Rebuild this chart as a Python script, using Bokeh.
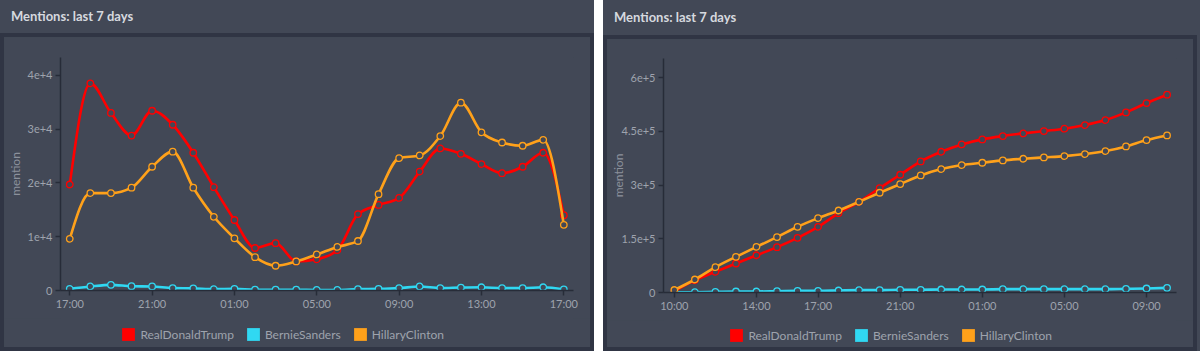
from bokeh.plotting import figure
from bokeh.models import FixedTicker, Legend, LegendItem, Div, Range1d
from bokeh.layouts import row, column
from bokeh.embed import file_html
from bokeh.resources import INLINE

# ---------------- data ----------------
TITLE = "Mentions: last 7 days"
SERIES = ["RealDonaldTrump", "BernieSanders", "HillaryClinton"]
COLORS = ["#ff0000", "#30d8f2", "#ffa11a"]

# left panel: hourly from 17:00 to 17:00 next day
left_hours = list(range(25))
left_xticks = [0, 4, 8, 12, 16, 20, 24]
left_xlabels = ["17:00", "21:00", "01:00", "05:00", "09:00", "13:00", "17:00"]
left_yticks = [0, 10000, 20000, 30000, 40000]
left_ylabels = ["0", "1e+4", "2e+4", "3e+4", "4e+4"]
left_trump = [19700, 38500, 33000, 28800, 33400, 30800, 25600, 19200, 13100, 7900,
              8800, 5400, 5800, 7500, 14200, 15900, 17200, 22100, 26400, 25400,
              23500, 21800, 23000, 25600, 14000]
left_bernie = [300, 750, 1050, 800, 750, 450, 400, 250, 300, 150,
               150, 150, 100, 100, 250, 300, 450, 750, 450, 550,
               600, 450, 450, 600, 200]
left_hillary = [9600, 18100, 18100, 19100, 23000, 25800, 19100, 13700, 9700, 6200,
                4600, 5400, 6700, 8100, 9200, 17900, 24600, 25100, 28700, 34900,
                29400, 27500, 26900, 28000, 12200]

# right panel: hourly from 10:00 to 10:00 next day (cumulative)
right_hours = list(range(25))
right_xticks = [0, 4, 7, 11, 15, 19, 23]
right_xlabels = ["10:00", "14:00", "17:00", "21:00", "01:00", "05:00", "09:00"]
right_yticks = [0, 150000, 300000, 450000, 600000]
right_ylabels = ["0", "1.5e+5", "3e+5", "4.5e+5", "6e+5"]
right_trump = [3000, 34500, 57800, 81000, 104000, 126700, 152800, 183500, 221700, 253400,
               291600, 328900, 366200, 393200, 413700, 427700, 437000, 444400, 451000, 457500,
               467700, 481700, 503100, 529200, 552500]
right_bernie = [500, 900, 1900, 2800, 2800, 3700, 4700, 4700, 5600, 6500,
                6500, 7500, 7500, 8400, 8400, 8400, 9300, 9300, 9300, 9300,
                9300, 9300, 10200, 11200, 13000]
right_hillary = [7000, 36300, 70800, 99700, 127600, 154700, 183500, 207800, 229000, 253400,
                 278600, 302800, 327000, 344700, 355900, 362400, 369000, 373600, 377300, 381000,
                 386700, 395000, 408000, 425800, 438800]

# ---------------- style ----------------
PANEL = "#424856"
BORDER = "#303544"
AXIS = "#272c38"
TICK = "#9ea3ad"
TITLE_C = "#d6d9df"
FONT = "Lato"


def monotone_segments(xs, ys):
    """Cubic bezier pieces of a monotone (d3 monotoneX-like) curve through the points."""
    n = len(xs)
    h = [xs[i + 1] - xs[i] for i in range(n - 1)]
    s = [(ys[i + 1] - ys[i]) / h[i] for i in range(n - 1)]
    t = [0.0] * n
    sg = lambda v: -1 if v < 0 else 1
    for i in range(1, n - 1):
        h0, h1, s0, s1 = h[i - 1], h[i], s[i - 1], s[i]
        p = (s0 * h1 + s1 * h0) / (h0 + h1)
        t[i] = (sg(s0) + sg(s1)) * min(abs(s0), abs(s1), 0.5 * abs(p))
    t[0] = (3 * s[0] - t[1]) / 2
    t[-1] = (3 * s[-1] - t[-2]) / 2
    seg = dict(x0=[], y0=[], x1=[], y1=[], cx0=[], cy0=[], cx1=[], cy1=[])
    for i in range(n - 1):
        d = h[i] / 3
        seg["x0"].append(xs[i]); seg["y0"].append(ys[i])
        seg["x1"].append(xs[i + 1]); seg["y1"].append(ys[i + 1])
        seg["cx0"].append(xs[i] + d); seg["cy0"].append(ys[i] + t[i] * d)
        seg["cx1"].append(xs[i + 1] - d); seg["cy1"].append(ys[i + 1] - t[i + 1] * d)
    return seg


def make_fig(hours, series, xticks, xlabels, yticks, ylabels, xr, yend,
             h, top, bottom, label_standoff):
    p = figure(width=586, height=h, output_backend="svg", toolbar_location=None,
               x_range=Range1d(*xr), y_range=Range1d(0, yend),
               min_border_left=56, min_border_right=17, min_border_top=top,
               min_border_bottom=bottom,
               background_fill_color=PANEL, border_fill_color=PANEL,
               outline_line_color=None)
    p.grid.visible = False

    for ax in (p.xaxis[0], p.yaxis[0]):
        ax.axis_line_color = AXIS
        ax.axis_line_width = 1.5
        ax.major_tick_line_color = AXIS
        ax.major_tick_line_width = 1.5
        ax.major_tick_in = 0
        ax.major_tick_out = 5
        ax.minor_tick_line_color = None
        ax.major_label_text_color = TICK
        ax.major_label_text_font = FONT
        ax.major_label_text_font_size = "11px"
    p.xaxis.ticker = FixedTicker(ticks=xticks)
    p.xaxis.major_label_overrides = {t: l for t, l in zip(xticks, xlabels)}
    p.xaxis.major_label_standoff = 1
    p.yaxis.ticker = FixedTicker(ticks=yticks)
    p.yaxis.major_label_overrides = {t: l for t, l in zip(yticks, ylabels)}
    p.yaxis.major_label_standoff = 3
    p.yaxis.axis_label = "mention"
    p.yaxis.axis_label_text_font = FONT
    p.yaxis.axis_label_text_font_style = "normal"
    p.yaxis.axis_label_text_font_size = "12px"
    p.yaxis.axis_label_text_color = "#8c919c"
    p.yaxis.axis_label_standoff = label_standoff

    for vals, col in zip(series, COLORS):
        seg = monotone_segments(hours, vals)
        p.bezier(line_color=col, line_width=2.6, line_cap="round", **seg)
        p.scatter(hours, vals, size=6.5, marker="circle", fill_color=PANEL,
                  line_color=col, line_width=1.3)
    return p


def make_legend(h, leg_x, leg_y):
    q = figure(width=586, height=h, output_backend="svg", toolbar_location=None,
               x_range=Range1d(0, 1), y_range=Range1d(0, 1),
               x_axis_type=None, y_axis_type=None,
               min_border=0, background_fill_color=PANEL, border_fill_color=PANEL,
               outline_line_color=None)
    q.grid.visible = False
    items = []
    for name, col in zip(SERIES, COLORS):
        # swatch renderer placed outside the visible range; only used by the legend
        sw = q.quad(left=[5], right=[6], top=[6], bottom=[5], fill_color=col, line_color=None)
        items.append(LegendItem(label=name, renderers=[sw]))
    legend = Legend(items=items, orientation="horizontal", location=(leg_x, leg_y),
                    glyph_width=16, glyph_height=16, label_height=16,
                    label_standoff=4, spacing=11, padding=0, margin=0,
                    background_fill_alpha=0, border_line_color=None,
                    label_text_font=FONT, label_text_font_size="12px",
                    label_text_color=TICK)
    q.add_layout(legend)
    return q


def header(width, height):
    html = (f'<div style="font-family:{FONT};font-weight:bold;font-size:13px;'
            f'color:{TITLE_C};line-height:{height}px;padding-left:11px;'
            f'white-space:nowrap;">{TITLE}</div>')
    return Div(text=html, width=width, height=height, margin=0,
               styles={"background-color": PANEL})


pL = make_fig(left_hours, [left_trump, left_bernie, left_hillary],
              left_xticks, left_xlabels, left_yticks, left_ylabels,
              (-0.45, 24.47), 43300, 281, 20, 28, 2)
lL = make_legend(29, 60.4, 5)
contentL = column(pL, lL, spacing=0, margin=(4, 4, 4, 4),
                  styles={"background-color": PANEL})
left = column(header(594, 33), contentL, spacing=0, margin=0,
              styles={"background-color": BORDER})

pR = make_fig(right_hours, [right_trump, right_bernie, right_hillary],
              right_xticks, right_xlabels, right_yticks, right_ylabels,
              (-0.53, 24.46), 653600, 281, 19, 28, -7)
lR = make_legend(27, 65.4, 4)
contentR = column(pR, lR, spacing=0, margin=(4, 7, 4, 4),
                  styles={"background-color": PANEL})
right = column(header(597, 35), contentR, spacing=0, margin=0,
               styles={"background": f"linear-gradient(to right, {BORDER} 594px, {PANEL} 594px)"})

gap = Div(text="", width=9, height=351, margin=0, styles={"background-color": "#ffffff"})
page = row(left, gap, right, spacing=0, margin=0)

open("out.html", "w").write(file_html(page, INLINE))
